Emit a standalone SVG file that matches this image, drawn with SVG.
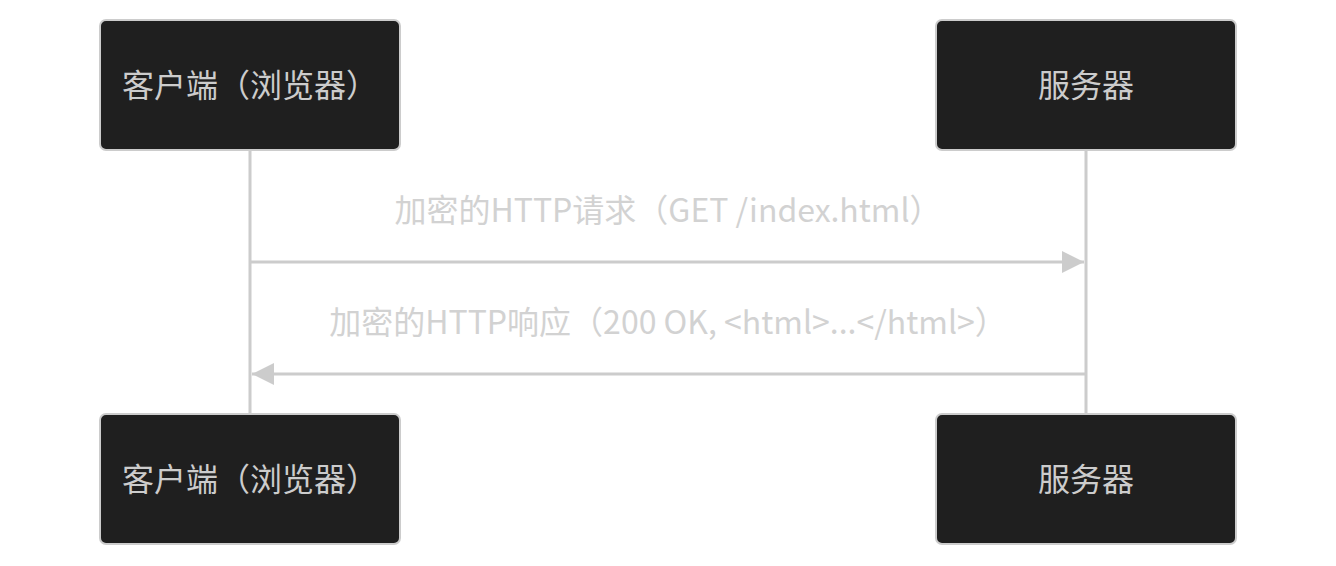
<svg xmlns="http://www.w3.org/2000/svg" width="1336" height="566" viewBox="0 0 1336 566">
<style>
.actor rect{fill:#1f1f1f;stroke:#cccccc;stroke-width:2}
.actor text{fill:#cccccc;font-family:"Noto Sans CJK SC","Noto Sans",sans-serif;font-size:32px;text-anchor:middle}
.life{stroke:#cccccc;stroke-width:3}
.msg{stroke:#cccccc;stroke-width:3;fill:none}
.label{fill:#d2d2d2;font-family:"Noto Sans CJK SC","Noto Sans",sans-serif;font-size:32px;text-anchor:middle}
</style>
<defs>
<marker id="ah" viewBox="0 0 22 22" refX="22" refY="11" markerWidth="22" markerHeight="22" markerUnits="userSpaceOnUse" orient="auto">
<path d="M0,0 L22,11 L0,22 Z" fill="#cccccc"/>
</marker>
</defs>
<rect width="1336" height="566" fill="#ffffff"/>
<g id="lifelines">
<line class="life" x1="250" y1="150" x2="250" y2="414"/>
<line class="life" x1="1086" y1="150" x2="1086" y2="414"/>
</g>
<g id="client-top" class="actor"><rect x="100" y="20" width="300" height="130" rx="6"/><text x="250" y="97">客户端（浏览器）</text></g>
<g id="server-top" class="actor"><rect x="936" y="20" width="300" height="130" rx="6"/><text x="1086" y="97">服务器</text></g>
<g id="client-bottom" class="actor"><rect x="100" y="414" width="300" height="130" rx="6"/><text x="250" y="491">客户端（浏览器）</text></g>
<g id="server-bottom" class="actor"><rect x="936" y="414" width="300" height="130" rx="6"/><text x="1086" y="491">服务器</text></g>
<g id="connectors">
<line class="msg" x1="250" y1="262" x2="1084" y2="262" marker-end="url(#ah)"/>
<line class="msg" x1="1086" y1="374" x2="252" y2="374" marker-end="url(#ah)"/>
<text class="label" x="668" y="222">加密的HTTP请求（GET /index.html）</text>
<text class="label" x="668" y="334">加密的HTTP响应（200 OK, &lt;html&gt;...&lt;/html&gt;）</text>
</g>
</svg>
